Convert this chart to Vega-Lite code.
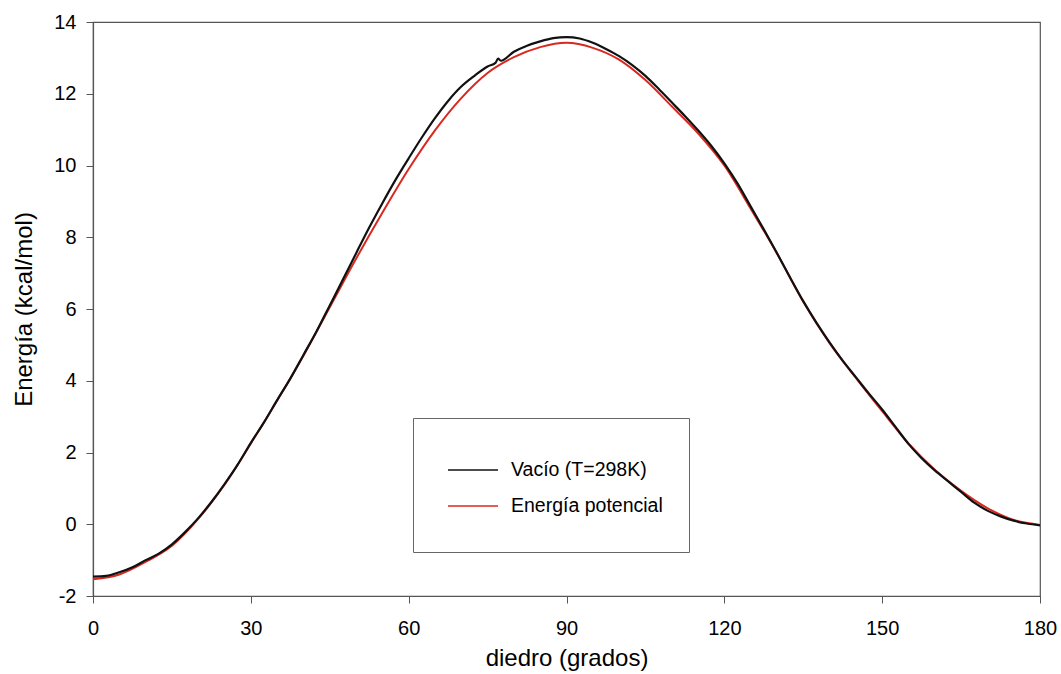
{
  "$schema": "https://vega.github.io/schema/vega-lite/v6.json",
  "width": 947,
  "height": 574,
  "autosize": "none",
  "padding": {"left": 93, "top": 22, "right": 21, "bottom": 78},
  "background": "white",
  "datasets": {
    "curvas": [
      {"diedro": 0, "energia": -1.53, "serie": "Energía potencial"},
      {"diedro": 5, "energia": -1.4, "serie": "Energía potencial"},
      {"diedro": 10, "energia": -1.05, "serie": "Energía potencial"},
      {"diedro": 15, "energia": -0.6, "serie": "Energía potencial"},
      {"diedro": 20, "energia": 0.15, "serie": "Energía potencial"},
      {"diedro": 25, "energia": 1.1, "serie": "Energía potencial"},
      {"diedro": 30, "energia": 2.25, "serie": "Energía potencial"},
      {"diedro": 35, "energia": 3.45, "serie": "Energía potencial"},
      {"diedro": 40, "energia": 4.7, "serie": "Energía potencial"},
      {"diedro": 45, "energia": 6.05, "serie": "Energía potencial"},
      {"diedro": 50, "energia": 7.4, "serie": "Energía potencial"},
      {"diedro": 55, "energia": 8.68, "serie": "Energía potencial"},
      {"diedro": 60, "energia": 9.9, "serie": "Energía potencial"},
      {"diedro": 65, "energia": 10.98, "serie": "Energía potencial"},
      {"diedro": 70, "energia": 11.88, "serie": "Energía potencial"},
      {"diedro": 75, "energia": 12.58, "serie": "Energía potencial"},
      {"diedro": 80, "energia": 13.02, "serie": "Energía potencial"},
      {"diedro": 85, "energia": 13.3, "serie": "Energía potencial"},
      {"diedro": 90, "energia": 13.42, "serie": "Energía potencial"},
      {"diedro": 95, "energia": 13.28, "serie": "Energía potencial"},
      {"diedro": 100, "energia": 12.95, "serie": "Energía potencial"},
      {"diedro": 105, "energia": 12.38, "serie": "Energía potencial"},
      {"diedro": 110, "energia": 11.65, "serie": "Energía potencial"},
      {"diedro": 115, "energia": 10.9, "serie": "Energía potencial"},
      {"diedro": 120, "energia": 10.0, "serie": "Energía potencial"},
      {"diedro": 125, "energia": 8.8, "serie": "Energía potencial"},
      {"diedro": 130, "energia": 7.55, "serie": "Energía potencial"},
      {"diedro": 135, "energia": 6.2, "serie": "Energía potencial"},
      {"diedro": 140, "energia": 5.05, "serie": "Energía potencial"},
      {"diedro": 145, "energia": 4.08, "serie": "Energía potencial"},
      {"diedro": 150, "energia": 3.15, "serie": "Energía potencial"},
      {"diedro": 155, "energia": 2.25, "serie": "Energía potencial"},
      {"diedro": 160, "energia": 1.52, "serie": "Energía potencial"},
      {"diedro": 165, "energia": 0.93, "serie": "Energía potencial"},
      {"diedro": 170, "energia": 0.45, "serie": "Energía potencial"},
      {"diedro": 175, "energia": 0.12, "serie": "Energía potencial"},
      {"diedro": 180, "energia": -0.02, "serie": "Energía potencial"},
      {"diedro": 0, "energia": -1.46, "serie": "Vacío (T=298K)"},
      {"diedro": 2.5, "energia": -1.44, "serie": "Vacío (T=298K)"},
      {"diedro": 5, "energia": -1.34, "serie": "Vacío (T=298K)"},
      {"diedro": 7.5, "energia": -1.2, "serie": "Vacío (T=298K)"},
      {"diedro": 10, "energia": -1.0, "serie": "Vacío (T=298K)"},
      {"diedro": 12.5, "energia": -0.82, "serie": "Vacío (T=298K)"},
      {"diedro": 15, "energia": -0.56, "serie": "Vacío (T=298K)"},
      {"diedro": 17.5, "energia": -0.22, "serie": "Vacío (T=298K)"},
      {"diedro": 20, "energia": 0.17, "serie": "Vacío (T=298K)"},
      {"diedro": 22.5, "energia": 0.62, "serie": "Vacío (T=298K)"},
      {"diedro": 25, "energia": 1.12, "serie": "Vacío (T=298K)"},
      {"diedro": 27.5, "energia": 1.66, "serie": "Vacío (T=298K)"},
      {"diedro": 30, "energia": 2.27, "serie": "Vacío (T=298K)"},
      {"diedro": 32.5, "energia": 2.84, "serie": "Vacío (T=298K)"},
      {"diedro": 35, "energia": 3.46, "serie": "Vacío (T=298K)"},
      {"diedro": 37.5, "energia": 4.06, "serie": "Vacío (T=298K)"},
      {"diedro": 40, "energia": 4.72, "serie": "Vacío (T=298K)"},
      {"diedro": 42.5, "energia": 5.38, "serie": "Vacío (T=298K)"},
      {"diedro": 45, "energia": 6.1, "serie": "Vacío (T=298K)"},
      {"diedro": 47.5, "energia": 6.82, "serie": "Vacío (T=298K)"},
      {"diedro": 50, "energia": 7.55, "serie": "Vacío (T=298K)"},
      {"diedro": 52.5, "energia": 8.27, "serie": "Vacío (T=298K)"},
      {"diedro": 55, "energia": 8.95, "serie": "Vacío (T=298K)"},
      {"diedro": 57.5, "energia": 9.6, "serie": "Vacío (T=298K)"},
      {"diedro": 60, "energia": 10.2, "serie": "Vacío (T=298K)"},
      {"diedro": 62.5, "energia": 10.78, "serie": "Vacío (T=298K)"},
      {"diedro": 65, "energia": 11.32, "serie": "Vacío (T=298K)"},
      {"diedro": 67.5, "energia": 11.8, "serie": "Vacío (T=298K)"},
      {"diedro": 70, "energia": 12.2, "serie": "Vacío (T=298K)"},
      {"diedro": 72.5, "energia": 12.5, "serie": "Vacío (T=298K)"},
      {"diedro": 75, "energia": 12.76, "serie": "Vacío (T=298K)"},
      {"diedro": 76.5, "energia": 12.86, "serie": "Vacío (T=298K)"},
      {"diedro": 77, "energia": 12.98, "serie": "Vacío (T=298K)"},
      {"diedro": 77.5, "energia": 12.92, "serie": "Vacío (T=298K)"},
      {"diedro": 80, "energia": 13.17, "serie": "Vacío (T=298K)"},
      {"diedro": 82.5, "energia": 13.34, "serie": "Vacío (T=298K)"},
      {"diedro": 85, "energia": 13.46, "serie": "Vacío (T=298K)"},
      {"diedro": 87.5, "energia": 13.55, "serie": "Vacío (T=298K)"},
      {"diedro": 90, "energia": 13.58, "serie": "Vacío (T=298K)"},
      {"diedro": 92.5, "energia": 13.54, "serie": "Vacío (T=298K)"},
      {"diedro": 95, "energia": 13.42, "serie": "Vacío (T=298K)"},
      {"diedro": 97.5, "energia": 13.25, "serie": "Vacío (T=298K)"},
      {"diedro": 100, "energia": 13.05, "serie": "Vacío (T=298K)"},
      {"diedro": 102.5, "energia": 12.8, "serie": "Vacío (T=298K)"},
      {"diedro": 105, "energia": 12.5, "serie": "Vacío (T=298K)"},
      {"diedro": 107.5, "energia": 12.14, "serie": "Vacío (T=298K)"},
      {"diedro": 110, "energia": 11.76, "serie": "Vacío (T=298K)"},
      {"diedro": 112.5, "energia": 11.38, "serie": "Vacío (T=298K)"},
      {"diedro": 115, "energia": 10.98, "serie": "Vacío (T=298K)"},
      {"diedro": 117.5, "energia": 10.55, "serie": "Vacío (T=298K)"},
      {"diedro": 120, "energia": 10.06, "serie": "Vacío (T=298K)"},
      {"diedro": 122.5, "energia": 9.5, "serie": "Vacío (T=298K)"},
      {"diedro": 125, "energia": 8.86, "serie": "Vacío (T=298K)"},
      {"diedro": 127.5, "energia": 8.22, "serie": "Vacío (T=298K)"},
      {"diedro": 130, "energia": 7.56, "serie": "Vacío (T=298K)"},
      {"diedro": 132.5, "energia": 6.88, "serie": "Vacío (T=298K)"},
      {"diedro": 135, "energia": 6.22, "serie": "Vacío (T=298K)"},
      {"diedro": 137.5, "energia": 5.62, "serie": "Vacío (T=298K)"},
      {"diedro": 140, "energia": 5.07, "serie": "Vacío (T=298K)"},
      {"diedro": 142.5, "energia": 4.56, "serie": "Vacío (T=298K)"},
      {"diedro": 145, "energia": 4.1, "serie": "Vacío (T=298K)"},
      {"diedro": 147.5, "energia": 3.64, "serie": "Vacío (T=298K)"},
      {"diedro": 150, "energia": 3.2, "serie": "Vacío (T=298K)"},
      {"diedro": 152.5, "energia": 2.72, "serie": "Vacío (T=298K)"},
      {"diedro": 155, "energia": 2.24, "serie": "Vacío (T=298K)"},
      {"diedro": 157.5, "energia": 1.84, "serie": "Vacío (T=298K)"},
      {"diedro": 160, "energia": 1.5, "serie": "Vacío (T=298K)"},
      {"diedro": 162.5, "energia": 1.2, "serie": "Vacío (T=298K)"},
      {"diedro": 165, "energia": 0.9, "serie": "Vacío (T=298K)"},
      {"diedro": 167.5, "energia": 0.6, "serie": "Vacío (T=298K)"},
      {"diedro": 170, "energia": 0.38, "serie": "Vacío (T=298K)"},
      {"diedro": 172.5, "energia": 0.22, "serie": "Vacío (T=298K)"},
      {"diedro": 175, "energia": 0.1, "serie": "Vacío (T=298K)"},
      {"diedro": 177.5, "energia": 0.02, "serie": "Vacío (T=298K)"},
      {"diedro": 180, "energia": -0.03, "serie": "Vacío (T=298K)"}
    ]
  },
  "data": {"name": "curvas"},
  "encoding": {
    "x": {
      "field": "diedro", "type": "quantitative",
      "scale": {"domain": [0, 180], "nice": false, "zero": false},
      "axis": {"values": [0, 30, 60, 90, 120, 150, 180], "title": "diedro (grados)", "titlePadding": 8, "labelFlush": false}
    },
    "y": {
      "field": "energia", "type": "quantitative",
      "scale": {"domain": [-2, 14], "nice": false, "zero": false},
      "axis": {"values": [-2, 0, 2, 4, 6, 8, 10, 12, 14], "labelExpr": "'' + datum.value", "title": "Energía (kcal/mol)", "titlePadding": 17}
    },
    "color": {
      "field": "serie", "type": "nominal",
      "scale": {"domain": ["Vacío (T=298K)", "Energía potencial"], "range": ["#111111", "#d8281f"]},
      "legend": {
        "title": " ",
        "titleOrient": "bottom",
        "titleFontSize": 8,
        "titlePadding": 2,
        "orient": "none",
        "legendX": 320,
        "legendY": 396,
        "direction": "vertical",
        "symbolType": "stroke",
        "symbolSize": 2500,
        "symbolStrokeWidth": 1.6,
        "symbolOffset": 8,
        "labelFontSize": 19.5,
        "labelFont": "Liberation Sans",
        "labelColor": "#000000",
        "labelOffset": 12,
        "rowPadding": -8,
        "padding": 26,
        "strokeColor": "#666666",
        "fillColor": "white"
      }
    }
  },
  "layer": [
    {
      "transform": [{"filter": "datum.serie === 'Energía potencial'"}],
      "mark": {"type": "line", "strokeWidth": 2, "interpolate": "monotone"}
    },
    {
      "transform": [{"filter": "datum.serie === 'Vacío (T=298K)'"}],
      "mark": {"type": "line", "strokeWidth": 2.2, "interpolate": "monotone"}
    }
  ],
  "config": {
    "view": {"stroke": "#555555", "strokeWidth": 1.2},
    "axis": {
      "grid": false,
      "domainColor": "#555555",
      "domainWidth": 1.2,
      "tickColor": "#555555",
      "tickSize": 7,
      "labelFont": "Liberation Sans",
      "labelFontSize": 20,
      "labelColor": "#000000",
      "titleFont": "Liberation Sans",
      "titleFontSize": 24,
      "titleFontWeight": "normal",
      "titleColor": "#000000"
    },
    "axisX": {"labelPadding": 15},
    "axisY": {"labelPadding": 10}
  }
}
